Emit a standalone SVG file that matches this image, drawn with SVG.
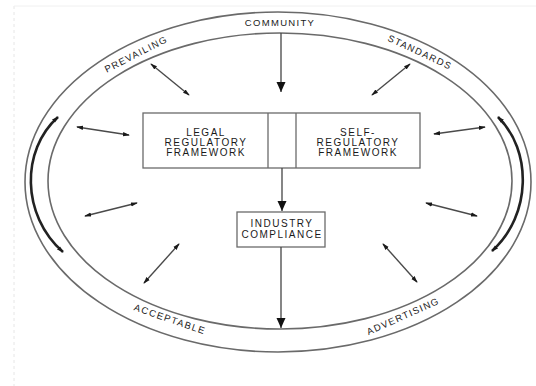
<svg xmlns="http://www.w3.org/2000/svg" width="536" height="386" viewBox="0 0 536 386">
<defs>
<marker id="sm" viewBox="0 0 8 6" refX="7" refY="3" markerWidth="7" markerHeight="5.5" markerUnits="userSpaceOnUse" orient="auto-start-reverse">
<path d="M0,0.5 L8,3 L0,5.5 z" fill="#1a1a1a"/>
</marker>
<marker id="big" viewBox="0 0 10 10" refX="10" refY="5" markerWidth="10" markerHeight="10" markerUnits="userSpaceOnUse" orient="auto">
<path d="M0,0.5 L10,5 L0,9.5 z" fill="#111"/>
</marker>
<style>
.ell{fill:none;stroke:#6a6a6a;stroke-width:1.6}
.box{fill:#fff;stroke:#6a6a6a;stroke-width:1.3}
.ln{fill:none;stroke:#444;stroke-width:1.3}
.sa{fill:none;stroke:#4a4a4a;stroke-width:1.4;marker-start:url(#sm);marker-end:url(#sm)}
.arc{fill:none;stroke:#222;stroke-width:2.6;marker-start:url(#sm);marker-end:url(#sm)}
.t{font-family:"Liberation Sans",Arial,sans-serif;font-size:10px;fill:#1a1a1a;text-anchor:middle;dominant-baseline:central;letter-spacing:1.5px}
.lab{font-family:"Liberation Sans",Arial,sans-serif;font-size:9.5px;fill:#1a1a1a;text-anchor:middle;dominant-baseline:central;letter-spacing:1.3px}
</style>
</defs>
<rect x="0" y="0" width="536" height="386" fill="#fff"/>
<line x1="14" y1="6" x2="14" y2="386" stroke="#e6e6e6" stroke-width="1" stroke-dasharray="3,3"/>
<line x1="14" y1="6" x2="536" y2="6" stroke="#f0f0f0" stroke-width="1"/>

<g id="outer-ellipse">
<ellipse class="ell" cx="278" cy="182" rx="253" ry="170"/>
</g>
<g id="inner-ellipse">
<ellipse class="ell" cx="280" cy="181" rx="232" ry="148"/>
</g>

<g id="labels">
<text class="lab" x="280" y="22">COMMUNITY</text>
<text class="lab" transform="translate(136,54) rotate(-27)">PREVAILING</text>
<text class="lab" transform="translate(420,52) rotate(25)">STANDARDS</text>
<text class="lab" transform="translate(170,319) rotate(19)">ACCEPTABLE</text>
<text class="lab" transform="translate(403,316) rotate(-24)">ADVERTISING</text>
</g>

<g id="framework">
<rect class="box" x="143" y="113" width="277" height="55"/>
<line class="box" x1="268" y1="113" x2="268" y2="168"/>
<line class="box" x1="296" y1="113" x2="296" y2="168"/>
</g>
<g id="legal">
<text class="t" x="206" y="132">LEGAL</text>
<text class="t" x="206" y="142">REGULATORY</text>
<text class="t" x="206" y="152.5">FRAMEWORK</text>
</g>
<g id="self">
<text class="t" x="358" y="132">SELF-</text>
<text class="t" x="358" y="142">REGULATORY</text>
<text class="t" x="358" y="152.5">FRAMEWORK</text>
</g>
<g id="industry">
<rect class="box" x="237" y="212" width="88" height="35"/>
<text class="t" x="282" y="223.5">INDUSTRY</text>
<text class="t" x="282" y="234.5">COMPLIANCE</text>
</g>

<g id="connectors">
<line class="ln" x1="281" y1="33" x2="281" y2="92" marker-end="url(#big)"/>
<line class="ln" x1="282" y1="168" x2="282" y2="211" marker-end="url(#big)"/>
<line class="ln" x1="281" y1="247" x2="281" y2="328" marker-end="url(#big)"/>
<line class="sa" x1="151" y1="64" x2="189" y2="95"/>
<line class="sa" x1="410" y1="64" x2="372" y2="95"/>
<line class="sa" x1="77" y1="127" x2="129" y2="135"/>
<line class="sa" x1="85" y1="216" x2="137" y2="203"/>
<line class="sa" x1="485" y1="127" x2="434" y2="134"/>
<line class="sa" x1="477" y1="216" x2="426" y2="203"/>
<line class="sa" x1="179" y1="244" x2="144" y2="283"/>
<line class="sa" x1="383" y1="244" x2="417" y2="282"/>
<path class="arc" d="M58,117 C21,150 21,215 63,252"/>
<path class="arc" d="M498,117 C532,150 532,215 492,251"/>
</g>
</svg>
